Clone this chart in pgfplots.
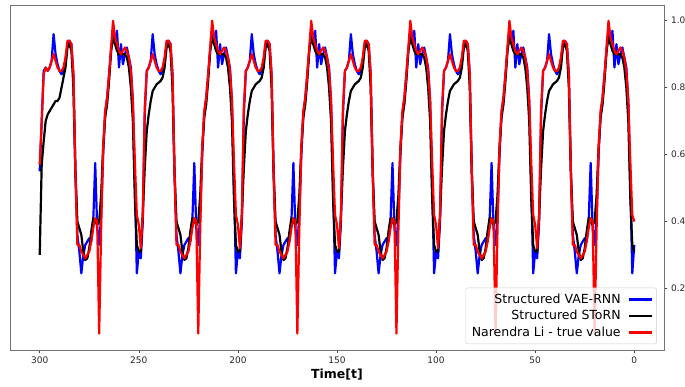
\documentclass[border=0pt]{standalone}
\usepackage{fontspec}
\setmainfont{DejaVu Sans}
\usepackage{pgfplots}
\usepackage{pgfplotstable}
\pgfplotsset{compat=1.18}

% columns: t, true value (R), VAE-RNN (B), SToRN (K)
\pgfplotstableread{
t R B K
0 0.40 0.33 0.31
1 0.42 0.245 0.33
2 0.58 0.52 0.47
3 0.76 0.76 0.70
4 0.85 0.86 0.80
5 0.89 0.89 0.86
6 0.91 0.92 0.89
7 0.92 0.90 0.90
8 0.91 0.87 0.90
9 0.90 0.93 0.90
10 0.91 0.86 0.90
11 0.93 0.97 0.91
12 0.95 0.94 0.93
13 1.00 0.97 0.95
14 0.92 0.91 0.91
15 0.84 0.84 0.82
16 0.77 0.77 0.75
17 0.73 0.72 0.71
18 0.62 0.60 0.62
19 0.38 0.42 0.48
20 0.065 0.33 0.40
21 0.40 0.38 0.39
22 0.41 0.575 0.40
23 0.38 0.40 0.41
24 0.34 0.34 0.37
25 0.31 0.35 0.32
26 0.30 0.34 0.29
27 0.29 0.33 0.285
28 0.30 0.30 0.31
29 0.31 0.245 0.36
30 0.33 0.31 0.38
31 0.33 0.36 0.40
32 0.55 0.55 0.55
33 0.84 0.84 0.80
34 0.93 0.93 0.91
35 0.94 0.94 0.93
36 0.94 0.93 0.92
37 0.89 0.88 0.86
38 0.86 0.85 0.83
39 0.85 0.84 0.82
40 0.85 0.85 0.815
41 0.86 0.87 0.81
42 0.88 0.90 0.80
43 0.90 0.96 0.79
44 0.88 0.88 0.76
45 0.86 0.86 0.72
46 0.85 0.85 0.67
47 0.74 0.72 0.56
48 0.42 0.40 0.42
49 0.32 0.29 0.31
50 0.39 0.31 0.31
51 0.42 0.245 0.33
52 0.58 0.52 0.47
53 0.76 0.76 0.70
54 0.85 0.86 0.80
55 0.89 0.89 0.86
56 0.91 0.92 0.89
57 0.92 0.90 0.90
58 0.91 0.87 0.90
59 0.90 0.93 0.90
60 0.91 0.86 0.90
61 0.93 0.97 0.91
62 0.95 0.94 0.93
63 1.00 0.97 0.95
64 0.92 0.91 0.91
65 0.84 0.84 0.82
66 0.77 0.77 0.75
67 0.73 0.72 0.71
68 0.62 0.60 0.62
69 0.38 0.42 0.48
70 0.065 0.33 0.40
71 0.40 0.38 0.39
72 0.41 0.575 0.40
73 0.38 0.40 0.41
74 0.34 0.34 0.37
75 0.31 0.35 0.32
76 0.30 0.34 0.29
77 0.29 0.33 0.285
78 0.30 0.30 0.31
79 0.31 0.245 0.36
80 0.33 0.31 0.38
81 0.33 0.36 0.40
82 0.55 0.55 0.55
83 0.84 0.84 0.80
84 0.93 0.93 0.91
85 0.94 0.94 0.93
86 0.94 0.93 0.92
87 0.89 0.88 0.86
88 0.86 0.85 0.83
89 0.85 0.84 0.82
90 0.85 0.85 0.815
91 0.86 0.87 0.81
92 0.88 0.90 0.80
93 0.90 0.96 0.79
94 0.88 0.88 0.76
95 0.86 0.86 0.72
96 0.85 0.85 0.67
97 0.74 0.72 0.56
98 0.42 0.40 0.42
99 0.32 0.29 0.31
100 0.39 0.31 0.31
101 0.42 0.245 0.33
102 0.58 0.52 0.47
103 0.76 0.76 0.70
104 0.85 0.86 0.80
105 0.89 0.89 0.86
106 0.91 0.92 0.89
107 0.92 0.90 0.90
108 0.91 0.87 0.90
109 0.90 0.93 0.90
110 0.91 0.86 0.90
111 0.93 0.97 0.91
112 0.95 0.94 0.93
113 1.00 0.97 0.95
114 0.92 0.91 0.91
115 0.84 0.84 0.82
116 0.77 0.77 0.75
117 0.73 0.72 0.71
118 0.62 0.60 0.62
119 0.38 0.42 0.48
120 0.065 0.33 0.40
121 0.40 0.38 0.39
122 0.41 0.575 0.40
123 0.38 0.40 0.41
124 0.34 0.34 0.37
125 0.31 0.35 0.32
126 0.30 0.34 0.29
127 0.29 0.33 0.285
128 0.30 0.30 0.31
129 0.31 0.245 0.36
130 0.33 0.31 0.38
131 0.33 0.36 0.40
132 0.55 0.55 0.55
133 0.84 0.84 0.80
134 0.93 0.93 0.91
135 0.94 0.94 0.93
136 0.94 0.93 0.92
137 0.89 0.88 0.86
138 0.86 0.85 0.83
139 0.85 0.84 0.82
140 0.85 0.85 0.815
141 0.86 0.87 0.81
142 0.88 0.90 0.80
143 0.90 0.96 0.79
144 0.88 0.88 0.76
145 0.86 0.86 0.72
146 0.85 0.85 0.67
147 0.74 0.72 0.56
148 0.42 0.40 0.42
149 0.32 0.29 0.31
150 0.39 0.31 0.31
151 0.42 0.245 0.33
152 0.58 0.52 0.47
153 0.76 0.76 0.70
154 0.85 0.86 0.80
155 0.89 0.89 0.86
156 0.91 0.92 0.89
157 0.92 0.90 0.90
158 0.91 0.87 0.90
159 0.90 0.93 0.90
160 0.91 0.86 0.90
161 0.93 0.97 0.91
162 0.95 0.94 0.93
163 1.00 0.97 0.95
164 0.92 0.91 0.91
165 0.84 0.84 0.82
166 0.77 0.77 0.75
167 0.73 0.72 0.71
168 0.62 0.60 0.62
169 0.38 0.42 0.48
170 0.065 0.33 0.40
171 0.40 0.38 0.39
172 0.41 0.575 0.40
173 0.38 0.40 0.41
174 0.34 0.34 0.37
175 0.31 0.35 0.32
176 0.30 0.34 0.29
177 0.29 0.33 0.285
178 0.30 0.30 0.31
179 0.31 0.245 0.36
180 0.33 0.31 0.38
181 0.33 0.36 0.40
182 0.55 0.55 0.55
183 0.84 0.84 0.80
184 0.93 0.93 0.91
185 0.94 0.94 0.93
186 0.94 0.93 0.92
187 0.89 0.88 0.86
188 0.86 0.85 0.83
189 0.85 0.84 0.82
190 0.85 0.85 0.815
191 0.86 0.87 0.81
192 0.88 0.90 0.80
193 0.90 0.96 0.79
194 0.88 0.88 0.76
195 0.86 0.86 0.72
196 0.85 0.85 0.67
197 0.74 0.72 0.56
198 0.42 0.40 0.42
199 0.32 0.29 0.31
200 0.39 0.31 0.31
201 0.42 0.245 0.33
202 0.58 0.52 0.47
203 0.76 0.76 0.70
204 0.85 0.86 0.80
205 0.89 0.89 0.86
206 0.91 0.92 0.89
207 0.92 0.90 0.90
208 0.91 0.87 0.90
209 0.90 0.93 0.90
210 0.91 0.86 0.90
211 0.93 0.97 0.91
212 0.95 0.94 0.93
213 1.00 0.97 0.95
214 0.92 0.91 0.91
215 0.84 0.84 0.82
216 0.77 0.77 0.75
217 0.73 0.72 0.71
218 0.62 0.60 0.62
219 0.38 0.42 0.48
220 0.065 0.33 0.40
221 0.40 0.38 0.39
222 0.41 0.575 0.40
223 0.38 0.40 0.41
224 0.34 0.34 0.37
225 0.31 0.35 0.32
226 0.30 0.34 0.29
227 0.29 0.33 0.285
228 0.30 0.30 0.31
229 0.31 0.245 0.36
230 0.33 0.31 0.38
231 0.33 0.36 0.40
232 0.55 0.55 0.55
233 0.84 0.84 0.80
234 0.93 0.93 0.91
235 0.94 0.94 0.93
236 0.94 0.93 0.92
237 0.89 0.88 0.86
238 0.86 0.85 0.83
239 0.85 0.84 0.82
240 0.85 0.85 0.815
241 0.86 0.87 0.81
242 0.88 0.90 0.80
243 0.90 0.96 0.79
244 0.88 0.88 0.76
245 0.86 0.86 0.72
246 0.85 0.85 0.67
247 0.74 0.72 0.56
248 0.42 0.40 0.42
249 0.32 0.29 0.31
250 0.39 0.31 0.31
251 0.42 0.245 0.33
252 0.58 0.52 0.47
253 0.76 0.76 0.70
254 0.85 0.86 0.80
255 0.89 0.89 0.86
256 0.91 0.92 0.89
257 0.92 0.90 0.90
258 0.91 0.87 0.90
259 0.90 0.93 0.90
260 0.91 0.86 0.90
261 0.93 0.97 0.91
262 0.95 0.94 0.93
263 1.00 0.97 0.95
264 0.92 0.91 0.91
265 0.84 0.84 0.82
266 0.77 0.77 0.75
267 0.73 0.72 0.71
268 0.62 0.60 0.62
269 0.38 0.42 0.48
270 0.065 0.33 0.40
271 0.40 0.38 0.39
272 0.41 0.575 0.40
273 0.38 0.40 0.41
274 0.34 0.34 0.37
275 0.31 0.35 0.32
276 0.30 0.34 0.29
277 0.29 0.33 0.285
278 0.30 0.30 0.31
279 0.31 0.245 0.36
280 0.33 0.31 0.38
281 0.33 0.36 0.40
282 0.55 0.55 0.55
283 0.84 0.84 0.80
284 0.93 0.93 0.91
285 0.94 0.94 0.93
286 0.94 0.93 0.92
287 0.89 0.88 0.86
288 0.86 0.85 0.83
289 0.85 0.84 0.80
290 0.85 0.85 0.77
291 0.86 0.87 0.76
292 0.88 0.90 0.76
293 0.90 0.96 0.75
294 0.88 0.88 0.74
295 0.86 0.86 0.73
296 0.85 0.85 0.72
297 0.86 0.86 0.70
298 0.84 0.85 0.64
299 0.70 0.70 0.57
300 0.57 0.55 0.30
}\datatable

\begin{document}
\begin{tikzpicture}
\useasboundingbox (-10pt,-37pt) rectangle (675pt,350pt);
\begin{axis}[
  at={(0,0)}, anchor=south west,
  scale only axis, width=654pt, height=345pt,
  xmin=-15, xmax=315, ymin=0.016, ymax=1.047,
  x dir=reverse,
  xtick={0,50,100,150,200,250,300},
  ytick={0.2,0.4,0.6,0.8,1.0},
  xtick pos=left, ytick pos=right, yticklabel pos=right,
  tick align=outside, major tick length=3.5pt,
  tick style={black!75, line width=0.6pt},
  axis line style={black!55, line width=0.8pt},
  ticklabel style={font=\fontsize{9}{10}\selectfont, text=black!85},
  /pgf/number format/assume math mode=true,
  yticklabel style={/pgf/number format/fixed, /pgf/number format/fixed zerofill, /pgf/number format/precision=1},
  xlabel={\textbf{Time[t]}},
  xlabel style={font=\fontsize{12.5}{14}\selectfont, yshift=2pt},
  legend plot pos=right, legend cell align=right,
  legend style={at={(0.989,0.017)}, anchor=south east, draw=black!20, fill=white, fill opacity=0.8, text opacity=1, font=\fontsize{12.5}{14}\selectfont, row sep=1.5pt, column sep=5pt, inner sep=4pt, rounded corners=2pt},
  legend image code/.code={\draw[#1] (0cm,0cm) -- (0.8cm,0cm);},
  every axis plot/.append style={line width=2.2pt, line join=round},
]
\addplot[blue] table[x=t, y=B] {\datatable};
\addlegendentry{Structured VAE-RNN}
\addplot[black] table[x=t, y=K] {\datatable};
\addlegendentry{Structured SToRN}
\addplot[red] table[x=t, y=R] {\datatable};
\addlegendentry{Narendra Li - true value}
\end{axis}
\end{tikzpicture}
\end{document}
